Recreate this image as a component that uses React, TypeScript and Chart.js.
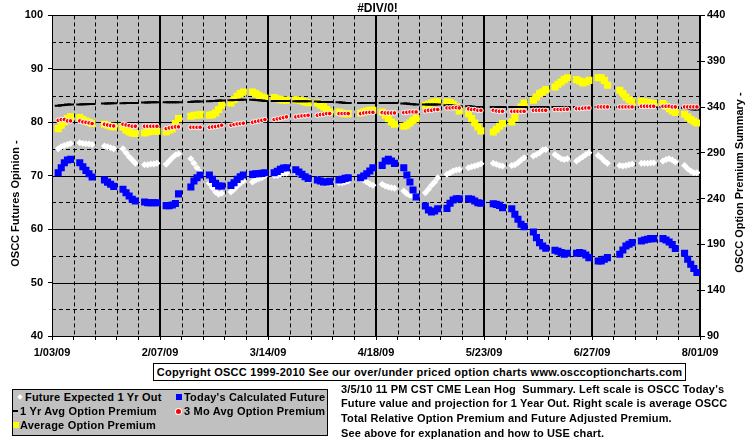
import React, { useEffect, useRef } from 'react';
import { Chart, registerables } from 'chart.js';

Chart.register(...registerables);

// ---------------- DATA ----------------
// Calendar: 1/03/09 (Saturday) to 8/01/09, CME trading days (Mon-Fri, minus holidays)
const FIRST_DAY = [2009, 0, 3];
const SPAN_DAYS = 210;
const HOLIDAYS = ['1/19', '2/16', '4/10', '5/25', '7/03'];
const X_TICK_LABELS = ['1/03/09', '2/07/09', '3/14/09', '4/18/09', '5/23/09', '6/27/09', '8/01/09'];

const LEFT_MIN = 40;
const LEFT_MAX = 100;
const RIGHT_MIN = 90;
const RIGHT_MAX = 440;

// Left scale: Future Expected 1 Yr Out (white diamonds)
const futureExpected1Yr = [
  75.05, 75.42, 75.67, 75.86, 76.04,
  76.17, 76.04, 75.98, 75.92, 75.86,
  75.55, 75.42, 75.23, 75.05,
  75.05, 74.3, 73.55, 72.93, 72.31,
  72.06, 72.06, 72.18, 72.18, 72.31,
  72.12, 72.74, 73.36, 73.86, 74.11,
  73.18, 72.31, 71.5, 70.69,
  68.57, 67.76, 66.95, 66.51, 66.7,
  66.95, 67.45, 68.07, 68.57, 69.0,
  68.82, 69.19, 69.44, 69.63, 69.94,
  70.06, 70.06, 70.25, 70.44, 70.44,
  70.56, 70.25, 69.94, 69.63, 69.31,
  69.31, 69.0, 68.69, 68.57, 68.57,
  68.69, 68.69, 68.82, 69.0,
  69.44, 69.19, 68.82, 68.44, 68.19,
  68.38, 68.07, 67.88, 67.76, 67.63,
  67.13, 66.64, 66.32, 66.2, 66.07,
  66.82, 67.45, 68.19, 68.82, 69.63,
  70.25, 70.56, 70.87, 71.06, 71.18,
  71.5, 71.68, 71.81, 72.0, 72.24,
  72.31, 72.12, 71.93, 71.81,
  71.93, 72.06, 72.43, 72.93, 73.36,
  73.68, 73.99, 74.3, 74.8, 74.92,
  73.99, 73.55, 73.18, 73.05, 73.18,
  72.74, 73.18, 73.55, 73.99, 74.3,
  73.8, 73.36, 72.74, 72.31,
  71.93, 71.81, 71.93, 72.06, 72.18,
  72.31, 72.31, 72.31, 72.37, 72.43,
  72.74, 73.05, 73.18, 72.93, 72.55,
  71.93, 71.31, 70.87, 70.56, 70.56,
];

// Left scale: Today's Calculated Future (blue squares)
const todaysCalculatedFuture = [
  70.56, 71.5, 72.43, 72.93, 73.05,
  72.43, 71.68, 71.0, 70.37, 69.75,
  69.2, 68.8, 68.4, 68.0,
  67.45, 66.82, 66.2, 65.58, 65.26,
  65.07, 64.95, 64.95, 64.95, 64.95,
  64.4, 64.4, 64.5, 64.8, 66.6,
  67.88, 69.0, 69.63, 70.12,
  70.12, 69.31, 68.57, 68.07, 68.07,
  68.19, 68.69, 69.31, 69.81, 70.12,
  70.25, 70.37, 70.37, 70.44, 70.56,
  70.56, 70.81, 71.18, 71.43, 71.5,
  71.12, 70.69, 70.25, 69.81, 69.5,
  69.19, 69.0, 68.82, 68.82, 68.94,
  69.19, 69.31, 69.5, 69.63,
  69.63, 69.94, 70.37, 70.87, 71.5,
  71.93, 72.74, 73.05, 72.74, 72.31,
  71.5, 70.12, 68.82, 67.32, 66.01,
  64.33, 63.58, 63.21, 63.4, 63.83,
  63.89, 64.83, 65.45, 65.7, 65.7,
  65.7, 65.58, 65.26, 64.95, 64.83,
  64.76, 64.64, 64.45, 64.02,
  63.83, 62.77, 61.84, 60.9, 60.47,
  59.47, 58.41, 57.48, 56.85, 56.42,
  56.04, 55.86, 55.61, 55.3, 55.48,
  55.48, 55.61, 55.48, 55.17, 54.67,
  54.05, 54.05, 54.36, 54.67,
  55.3, 56.11, 56.85, 57.17, 57.48,
  57.79, 57.98, 58.1, 58.22, 58.22,
  58.22, 57.98, 57.6, 57.1, 56.36,
  55.48, 54.36, 53.43, 52.62, 51.87,
];

// Right scale: 1 Yr Avg Option Premium (black dashes)
const avgPremium1Yr = [
  341.5, 341.9, 342.2, 342.6, 342.6,
  342.6, 343.0, 343.0, 343.3, 343.3,
  343.7, 343.7, 344.1, 344.1,
  344.1, 344.4, 344.4, 344.4, 344.4,
  344.8, 344.8, 345.2, 345.2, 345.2,
  345.2, 345.2, 345.2, 345.2, 345.2,
  345.5, 345.9, 345.9, 345.9,
  346.2, 346.6, 346.6, 347.0, 347.0,
  347.3, 347.7, 347.7, 348.0, 348.0,
  348.0, 347.7, 347.3, 347.0, 346.6,
  346.6, 346.6, 346.6, 346.6, 346.6,
  346.2, 346.2, 346.2, 346.2, 346.2,
  345.9, 345.5, 345.5, 345.5, 345.5,
  345.2, 344.8, 344.4, 344.4,
  344.4, 344.4, 344.4, 344.4, 344.4,
  344.4, 344.4, 344.4, 344.4, 344.4,
  343.7, 343.7, 343.3, 343.0, 342.6,
  342.6, 342.6, 342.6, 342.6, 342.6,
  341.9, 341.9, 341.5, 341.2, 340.8,
  340.8, 340.5, 340.1, 340.1, 340.1,
  340.1, 340.1, 340.1, 340.1,
  340.1, 340.1, 340.1, 340.1, 340.1,
  340.1, 340.1, 340.1, 340.1, 340.1,
  340.1, 340.1, 340.1, 340.1, 340.1,
  340.1, 340.1, 340.1, 340.1, 340.1,
  340.1, 340.1, 340.1, 340.1,
  340.1, 340.1, 340.1, 340.1, 340.1,
  340.1, 340.1, 340.1, 340.1, 340.1,
  340.1, 340.1, 340.1, 340.1, 340.1,
  339.3, 338.6, 337.9, 337.2, 337.2,
];

// Right scale: 3 Mo Avg Option Premium (red dots)
const avgPremium3Mo = [
  325.5, 326.3, 326.3, 324.8, 324.8,
  324.8, 323.7, 323.3, 322.6, 321.9,
  321.2, 320.4, 319.7, 319.3,
  321.2, 320.4, 319.7, 319.0, 319.0,
  319.0, 319.0, 319.0, 319.0, 319.0,
  316.4, 317.2, 317.9, 318.3, 318.3,
  317.9, 317.9, 317.9, 317.9,
  317.9, 318.3, 318.6, 319.3, 320.1,
  320.1, 320.8, 321.5, 321.9, 322.3,
  323.3, 324.1, 324.8, 325.5, 326.3,
  326.3, 327.0, 327.7, 328.4, 329.2,
  329.2, 329.9, 330.3, 330.6, 331.0,
  331.0, 331.7, 332.1, 332.8, 332.8,
  332.8, 332.8, 332.8, 332.8,
  332.8, 333.5, 333.9, 334.2, 334.2,
  333.9, 333.5, 333.5, 333.5, 333.5,
  333.9, 334.2, 334.6, 334.6, 334.6,
  335.7, 336.4, 336.4, 337.2, 337.2,
  339.0, 339.0, 339.3, 339.3, 339.0,
  337.9, 337.2, 337.2, 336.4, 336.4,
  336.4, 335.7, 335.3, 335.3,
  335.3, 335.3, 335.3, 335.3, 335.3,
  336.4, 336.4, 336.4, 336.4, 336.4,
  337.2, 337.2, 337.2, 337.5, 337.5,
  338.2, 338.2, 338.6, 339.0, 339.0,
  340.1, 340.1, 340.1, 340.1,
  340.1, 340.1, 340.1, 340.1, 340.1,
  340.8, 340.8, 340.8, 340.8, 340.8,
  340.8, 340.8, 340.8, 340.1, 340.1,
  340.1, 340.1, 340.1, 340.1, 340.1,
];

// Right scale: Average Option Premium (yellow squares)
const avgOptionPremium = [
  316.4, 320.1, 323.7, 327.3, 329.2,
  328.4, 326.3, 324.8, 323.3, 321.9,
  321.2, 320.1, 319.0, 318.3,
  318.3, 314.6, 312.8, 311.7, 311.0,
  311.7, 312.8, 313.5, 313.5, 313.5,
  312.8, 314.6, 316.4, 321.9, 327.3,
  329.9, 331.0, 331.0, 331.7,
  331.0, 331.7, 333.5, 337.2, 341.9,
  344.4, 348.0, 351.7, 354.6, 356.4,
  356.4, 354.6, 352.8, 351.0, 349.9,
  350.2, 349.1, 348.0, 347.3, 347.3,
  348.0, 347.3, 346.6, 345.5, 344.8,
  344.4, 341.9, 340.1, 337.2, 334.6,
  334.6, 333.5, 332.8, 332.8,
  333.5, 334.6, 335.7, 336.4, 336.4,
  334.6, 331.0, 327.3, 323.7, 321.2,
  319.0, 320.1, 322.6, 325.5, 327.3,
  341.9, 343.0, 344.4, 345.5, 345.5,
  345.5, 344.8, 343.0, 340.1, 335.7,
  332.8, 327.3, 322.6, 318.3, 313.9,
  312.8, 315.7, 319.0, 321.9,
  323.7, 328.4, 336.4, 340.1, 344.4,
  347.3, 351.0, 354.6, 356.4, 359.0,
  361.9, 364.8, 367.3, 369.9, 372.0,
  369.9, 368.4, 366.2, 367.3, 369.1,
  372.0, 372.0, 369.1, 363.7,
  358.2, 354.6, 351.0, 348.0, 345.5,
  346.2, 345.5, 344.8, 344.4, 343.7,
  343.7, 340.8, 338.2, 335.7, 333.9,
  332.1, 329.2, 326.3, 324.4, 322.6,
];

const TITLE = '#DIV/0!';
const LEFT_AXIS_TITLE = 'OSCC Futures Opinion -';
const RIGHT_AXIS_TITLE = 'OSCC Option Premium Summary -';
const COPYRIGHT = 'Copyright OSCC 1999-2010 See our over/under priced option charts www.osccoptioncharts.com';
const NOTE_LINES = [
  "3/5/10 11 PM CST CME Lean Hog  Summary. Left scale is OSCC Today's",
  'Future value and projection for 1 Year Out. Right scale is average OSCC',
  'Total Relative Option Premium and Future Adjusted Premium.',
  'See above for explanation and how to USE chart.',
];
const SERIES_NAMES = [
  'Future Expected 1 Yr Out',
  "Today's Calculated Future",
  '1 Yr Avg Option Premium',
  '3 Mo Avg Option Premium',
  'Average Option Premium',
];

// Trading-day offsets (days after 1/03/09)
function tradingDayOffsets(): number[] {
  const out: number[] = [];
  for (let d = 0; d < SPAN_DAYS; d++) {
    const dt = new Date(FIRST_DAY[0], FIRST_DAY[1], FIRST_DAY[2] + d);
    const wd = dt.getDay();
    const key = `${dt.getMonth() + 1}/${String(dt.getDate()).padStart(2, '0')}`;
    if (wd >= 1 && wd <= 5 && !HOLIDAYS.includes(key)) out.push(d);
  }
  return out;
}

// ---------------- STYLE ----------------
const FONT_FAMILY = '"Liberation Sans", Arial, Helvetica, sans-serif';
const PLOT_BG = '#C0C0C0';

const framePlugin = {
  id: 'oscc-frame',
  beforeDraw(chart: any) {
    const { ctx, chartArea: a, width, height } = chart;
    ctx.save();
    ctx.fillStyle = '#FFFFFF';
    ctx.fillRect(0, 0, width, height);
    ctx.fillStyle = PLOT_BG;
    ctx.fillRect(a.left, a.top, a.right - a.left, a.bottom - a.top);
    ctx.restore();
  },
  beforeDatasetsDraw(chart: any) {
    const { ctx, chartArea: a, scales } = chart;
    const xs = scales.x;
    const ys = scales.y;
    const y2 = scales.y2;
    ctx.save();
    ctx.strokeStyle = '#000';
    for (let v = LEFT_MIN + 5; v < LEFT_MAX; v += 5) {
      const py = Math.round(ys.getPixelForValue(v)) + 0.5;
      ctx.lineWidth = 1;
      ctx.setLineDash(v % 10 === 0 ? [] : [4, 3]);
      ctx.beginPath();
      ctx.moveTo(a.left, py);
      ctx.lineTo(a.right, py);
      ctx.stroke();
    }
    for (let d = 7; d < SPAN_DAYS; d += 7) {
      const raw = xs.getPixelForValue(d);
      ctx.beginPath();
      if (d % 35 === 0) {
        const px = Math.round(raw);
        ctx.lineWidth = 2;
        ctx.setLineDash([]);
        ctx.moveTo(px, a.top);
        ctx.lineTo(px, a.bottom);
      } else {
        const px = Math.round(raw) + 0.5;
        ctx.lineWidth = 1;
        ctx.setLineDash([4, 3]);
        ctx.moveTo(px, a.top);
        ctx.lineTo(px, a.bottom);
      }
      ctx.stroke();
    }
    ctx.setLineDash([]);
    ctx.lineWidth = 1;
    for (let v = RIGHT_MIN; v <= RIGHT_MAX; v += 50) {
      const py = Math.round(y2.getPixelForValue(v)) + 0.5;
      ctx.beginPath();
      ctx.moveTo(a.right - 3, py);
      ctx.lineTo(a.right, py);
      ctx.stroke();
    }
    ctx.strokeStyle = '#000';
    ctx.lineWidth = 1;
    ctx.strokeRect(Math.round(a.left) + 0.5, Math.round(a.top) + 0.5,
      Math.round(a.right - a.left) - 1, Math.round(a.bottom - a.top));
    ctx.lineWidth = 2;
    ctx.beginPath();
    ctx.moveTo(Math.round(a.right), a.top);
    ctx.lineTo(Math.round(a.right), a.bottom + 1);
    ctx.stroke();
    ctx.restore();
  },
  afterDraw(chart: any) {
    const { ctx } = chart;
    const drawRot = (text: string, cx: number, cy: number) => {
      ctx.save();
      ctx.fillStyle = '#000';
      ctx.font = `bold 11px ${FONT_FAMILY}`;
      ctx.textAlign = 'center';
      ctx.textBaseline = 'middle';
      ctx.translate(cx, cy);
      ctx.rotate(-Math.PI / 2);
      ctx.fillText(text, 0, 0);
      ctx.restore();
    };
    drawRot(LEFT_AXIS_TITLE, 15.5, 203.5);
    drawRot(RIGHT_AXIS_TITLE, 740, 182.5);
  },
};

const tickFont = { family: FONT_FAMILY, size: 11, weight: 'bold' as const };
const textStyle: React.CSSProperties = {
  fontFamily: FONT_FAMILY,
  fontSize: '11px',
  fontWeight: 'bold',
  color: '#000',
  whiteSpace: 'pre',
  lineHeight: '14px',
  letterSpacing: '0.2px',
};

export default function App() {
  const canvasRef = useRef<HTMLCanvasElement | null>(null);

  useEffect(() => {
    if (!canvasRef.current) return;
    const days = tradingDayOffsets();
    const pts = (arr: number[]) => days.map((d, i) => ({ x: d, y: arr[i] }));

    const chart = new Chart(canvasRef.current, {
      type: 'scatter',
      data: {
        datasets: [
          {
            label: SERIES_NAMES[1],
            data: pts(todaysCalculatedFuture),
            yAxisID: 'y',
            order: 0,
            pointStyle: 'rect',
            pointRadius: 5,
            pointBorderWidth: 0,
            pointBackgroundColor: '#0000FF',
            backgroundColor: '#0000FF',
            borderColor: '#0000FF',
          },
          {
            label: SERIES_NAMES[0],
            data: pts(futureExpected1Yr),
            yAxisID: 'y',
            order: 1,
            pointStyle: 'rectRot',
            pointRadius: 3.5,
            pointBorderWidth: 0,
            pointBackgroundColor: '#FFFFFF',
            backgroundColor: '#FFFFFF',
            borderColor: '#FFFFFF',
          },
          {
            label: SERIES_NAMES[3],
            data: pts(avgPremium3Mo),
            yAxisID: 'y2',
            order: 2,
            pointStyle: 'circle',
            pointRadius: 2.3,
            pointBorderWidth: 1,
            pointBackgroundColor: '#FF0000',
            pointBorderColor: '#FFFFFF',
            backgroundColor: '#FF0000',
            borderColor: '#FFFFFF',
          },
          {
            label: SERIES_NAMES[2],
            data: pts(avgPremium1Yr),
            yAxisID: 'y2',
            order: 3,
            pointStyle: 'line',
            pointRadius: 3.5,
            pointBorderWidth: 2,
            pointBorderColor: '#000000',
            backgroundColor: '#000000',
            borderColor: '#000000',
          },
          {
            label: SERIES_NAMES[4],
            data: pts(avgOptionPremium),
            yAxisID: 'y2',
            order: 4,
            pointStyle: 'rect',
            pointRadius: 5,
            pointBorderWidth: 0,
            pointBackgroundColor: '#FFFF00',
            backgroundColor: '#FFFF00',
            borderColor: '#FFFF00',
          },
        ],
      },
      options: {
        responsive: false,
        animation: false,
        events: [],
        layout: { padding: { top: 1, left: 0, right: 0, bottom: 0 } },
        plugins: {
          legend: { display: false },
          tooltip: { enabled: false },
          title: {
            display: true,
            text: TITLE,
            color: '#000',
            font: { family: FONT_FAMILY, size: 12, weight: 'bold' },
            padding: { top: 0, bottom: 0 },
          },
        },
        scales: {
          x: {
            type: 'linear',
            min: 0,
            max: SPAN_DAYS,
            afterFit: (s: any) => { s.height = 110; },
            ticks: {
              stepSize: 7,
              autoSkip: false,
              maxRotation: 0,
              minRotation: 0,
              padding: 6,
              color: '#000',
              font: tickFont,
              callback: (v: any) => (Number(v) % 35 === 0 ? X_TICK_LABELS[Number(v) / 35] : ''),
            },
            grid: { drawOnChartArea: false, drawTicks: true, tickLength: 4, color: '#000', lineWidth: 1 },
            border: { display: true, color: '#000', width: 1 },
          },
          y: {
            type: 'linear',
            position: 'left',
            min: LEFT_MIN,
            max: LEFT_MAX,
            afterFit: (s: any) => { s.width = 52; },
            ticks: { stepSize: 10, padding: 5, color: '#000', font: tickFont },
            grid: { drawOnChartArea: false, drawTicks: true, tickLength: 4, color: '#000', lineWidth: 1 },
            border: { display: true, color: '#000', width: 1 },
          },
          y2: {
            type: 'linear',
            position: 'right',
            min: RIGHT_MIN,
            max: RIGHT_MAX,
            afterFit: (s: any) => { s.width = 55; },
            ticks: { stepSize: 50, padding: 2, color: '#000', font: tickFont },
            grid: { drawOnChartArea: false, drawTicks: true, tickLength: 5, color: '#000', lineWidth: 1 },
            border: { display: true, color: '#000', width: 1 },
          },
        },
      },
      plugins: [framePlugin],
    } as any);

    return () => chart.destroy();
  }, []);

  const legendBox: React.CSSProperties = {
    position: 'absolute',
    left: 12,
    top: 389,
    width: 314,
    height: 45,
    background: PLOT_BG,
    border: '1px solid #000',
  };
  const item = (left: number, cy: number, text: string) => (
    <div style={{ ...textStyle, position: 'absolute', left, top: cy - 7 }}>{text}</div>
  );
  const marker = (cx: number, cy: number, w: number, h: number, extra: React.CSSProperties) => (
    <div style={{ position: 'absolute', left: cx - w / 2, top: cy - h / 2, width: w, height: h, ...extra }} />
  );

  return (
    <div style={{ position: 'fixed', left: 0, top: 0, width: 755, height: 446, background: '#fff', overflow: 'hidden' }}>
      <canvas ref={canvasRef} width={755} height={446} style={{ display: 'block', width: 755, height: 446 }} />

      <div
        style={{
          ...textStyle,
          position: 'absolute',
          left: 153,
          top: 363,
          width: 531,
          height: 16,
          lineHeight: '16px',
          border: '1px solid #000',
          background: '#fff',
          textAlign: 'center',
          letterSpacing: '0.25px',
        }}
      >
        {COPYRIGHT}
      </div>

      <div style={legendBox} />
      {marker(20, 397, 4, 4, { background: '#fff', transform: 'rotate(45deg)' })}
      {item(25, 397, SERIES_NAMES[0])}
      {marker(179, 397, 6, 6, { background: '#0000FF' })}
      {item(184, 397, SERIES_NAMES[1])}
      {marker(15, 411, 5, 2, { background: '#000' })}
      {item(20, 411, SERIES_NAMES[2])}
      {marker(178, 411, 5, 5, { background: '#FF0000', borderRadius: '50%', boxShadow: '0 0 0 1px #fff' })}
      {item(184, 411, SERIES_NAMES[3])}
      {marker(15.5, 425, 6, 6, { background: '#FFFF00' })}
      {item(20, 425, SERIES_NAMES[4])}

      <div style={{ ...textStyle, position: 'absolute', left: 341, top: 381.6, lineHeight: '14.7px', letterSpacing: '0.15px' }}>
        {NOTE_LINES.map((l, i) => (
          <div key={i}>{l}</div>
        ))}
      </div>
    </div>
  );
}
